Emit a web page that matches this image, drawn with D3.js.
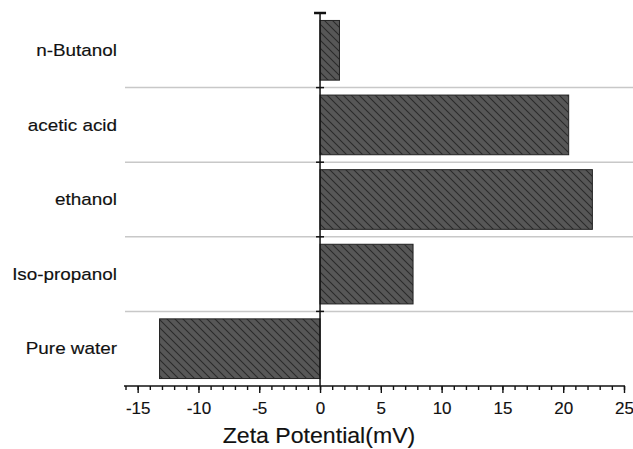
<!DOCTYPE html>
<html>
<head>
<meta charset="utf-8">
<script src="https://cdn.jsdelivr.net/npm/d3@7"></script>
<style>
  body { margin: 0; background: #fff; }
  text { font-family: "Liberation Sans", Arial, sans-serif; fill: #111; stroke: #111; stroke-width: 0.15px; }
</style>
</head>
<body>
<svg id="chart" width="633" height="449"></svg>
<script>
const categories = ["n-Butanol", "acetic acid", "ethanol", "Iso-propanol", "Pure water"];
const zeta = [1.6, 20.45, 22.4, 7.65, -13.2];
const majorTicks = [-15, -10, -5, 0, 5, 10, 15, 20, 25];
const xTitle = "Zeta Potential(mV)";

const width = 633, height = 449;
const svg = d3.select("#chart").attr("width", width).attr("height", height);

const x = d3.scaleLinear().domain([-16, 25]).range([125.5, 624]);
const y = d3.scaleBand().domain(categories).range([13, 386]).paddingInner(0.2).paddingOuter(0.1);

// hatch pattern
const defs = svg.append("defs");
const pat = defs.append("pattern").attr("id", "hatch").attr("patternUnits", "userSpaceOnUse")
  .attr("width", 8).attr("height", 8);
pat.append("rect").attr("width", 8).attr("height", 8).attr("fill", "#575757");
pat.append("path").attr("d", "M-2,-2L10,10M-2,6L2,10M6,-2L10,2")
  .attr("stroke", "#2a2a2a").attr("stroke-width", 1.1);

// separators between categories
const step = y.step();
const seps = d3.range(1, categories.length).map(i => y.range()[0] + step * i);
svg.append("g").selectAll("line").data(seps).enter().append("line")
  .attr("x1", 125).attr("x2", width).attr("y1", d => d).attr("y2", d => d)
  .attr("stroke", "#c8c8c8").attr("stroke-width", 1.5);

// bars
svg.append("g").selectAll("rect").data(categories).enter().append("rect")
  .attr("x", (d, i) => x(Math.min(0, zeta[i])))
  .attr("y", d => y(d))
  .attr("width", (d, i) => Math.abs(x(zeta[i]) - x(0)))
  .attr("height", y.bandwidth())
  .attr("fill", "url(#hatch)")
  .attr("stroke", "#222").attr("stroke-width", 1);

// x axis with minor ticks
const x0 = 386;
const gx = svg.append("g").attr("transform", `translate(0,${x0})`);
gx.call(d3.axisBottom(x).tickValues(d3.range(-16, 26, 1)).tickSize(4).tickFormat(""))
  .call(g => g.select(".domain").remove());
gx.append("g").call(d3.axisBottom(x).tickValues(majorTicks).tickSize(7).tickPadding(9).tickFormat(d => String(d)))
  .call(g => g.select(".domain").remove())
  .call(g => g.selectAll("text").attr("font-size", "17px").attr("fill", "#111"));
gx.selectAll("line").attr("stroke", "#111").attr("stroke-width", 1.4);
gx.append("line").attr("x1", 124).attr("x2", x(25) + 1).attr("stroke", "#111").attr("stroke-width", 1.5);

// vertical zero axis
svg.append("line").attr("x1", x(0)).attr("x2", x(0)).attr("y1", 13).attr("y2", x0)
  .attr("stroke", "#111").attr("stroke-width", 1.5);
svg.append("line").attr("x1", x(0) - 6).attr("x2", x(0) + 6).attr("y1", 13).attr("y2", 13)
  .attr("stroke", "#111").attr("stroke-width", 2.5);
svg.append("g").selectAll("line").data(seps).enter().append("line")
  .attr("x1", x(0) - 4).attr("x2", x(0) + 4).attr("y1", d => d).attr("y2", d => d)
  .attr("stroke", "#111").attr("stroke-width", 1.5);

// category labels
svg.append("g").selectAll("text").data(categories).enter().append("text")
  .attr("transform", d => `translate(117,${y(d) + y.bandwidth() / 2}) scale(1.18,1)`)
  .attr("text-anchor", "end").attr("dy", "0.35em")
  .attr("font-size", "16px").text(d => d);

// axis title
svg.append("text").attr("transform", `translate(319,443) scale(1.05,1)`)
  .attr("text-anchor", "middle").attr("font-size", "22px").text(xTitle);
</script>
</body>
</html>
